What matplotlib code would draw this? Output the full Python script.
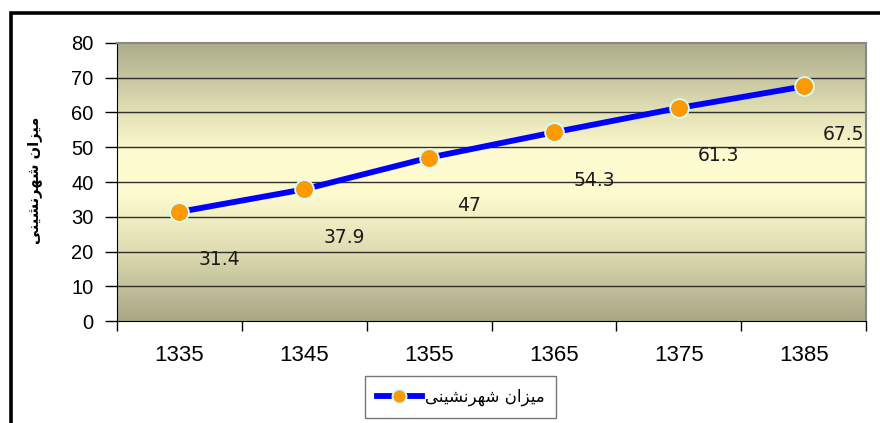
import numpy as np
import matplotlib
matplotlib.use("Agg")
import matplotlib.pyplot as plt
from matplotlib.colors import LinearSegmentedColormap
from matplotlib.patches import Rectangle

# data
years = ["1335", "1345", "1355", "1365", "1375", "1385"]
urban_rate = [31.4, 37.9, 47, 54.3, 61.3, 67.5]
value_labels = ["31.4", "37.9", "47", "54.3", "61.3", "67.5"]

# Persian label, pre-shaped (presentation forms, visual order)
series_name = "\uFBFD\uFEE8\uFBFF\uFEB8\uFEE7\uFEAE\uFEEC\uFEB7 \uFEE5\uFE8D\uFEB0\uFBFF\uFEE3"

fig = plt.figure(figsize=(8.8, 4.23), dpi=100)
ax = fig.add_axes([117 / 880, 1 - 321 / 423, (866 - 117) / 880, (321 - 43) / 423])

# outer chart frame
fig.patches.append(Rectangle((11 / 880, -0.1), 1.0, 1 - 13 / 423 + 0.1,
                             transform=fig.transFigure, fill=False,
                             edgecolor="black", linewidth=2.6))

# gradient background
grad = LinearSegmentedColormap.from_list("bg", [
    (0.0, (168 / 255, 166 / 255, 133 / 255)),
    (0.25, (222 / 255, 220 / 255, 176 / 255)),
    (0.45, (253 / 255, 251 / 255, 206 / 255)),
    (0.60, (254 / 255, 252 / 255, 208 / 255)),
    (0.75, (226 / 255, 224 / 255, 180 / 255)),
    (1.0, (172 / 255, 171 / 255, 139 / 255)),
])
ax.imshow(np.linspace(0, 1, 256).reshape(-1, 1), cmap=grad, aspect="auto",
          origin="lower", extent=(-0.5, 5.5, 0, 80), zorder=0)

x = np.arange(len(years))
for g in range(10, 80, 10):
    ax.axhline(g, color="#303030", linewidth=1.0, zorder=1)

ax.plot(x, urban_rate, color="#0000ff", linewidth=4.2, marker="o",
        markersize=13.5, markerfacecolor="#ff9900", markeredgecolor="#ccffff",
        markeredgewidth=1.3, zorder=3, label=series_name)

for xi, v, t in zip(x, urban_rate, value_labels):
    ax.annotate(t, (xi, v), xytext=(40, -48), textcoords="offset pixels",
                ha="center", va="center", fontsize=13.5, color="#1a1a1a",
                family="DejaVu Sans")

ax.set_xlim(-0.5, 5.5)
ax.set_ylim(0, 80)
ax.set_yticks(range(0, 81, 10))
ax.set_xticks(x)
ax.set_xticklabels(years)
ax.set_xticks(np.arange(-0.5, 6, 1), minor=True)
ax.tick_params(axis="x", which="major", length=0, pad=17, labelsize=16)
ax.tick_params(axis="x", which="minor", length=7, width=1, color="black")
ax.tick_params(axis="y", length=9, width=1, color="black", labelsize=14.5, pad=8)
for lab in ax.get_xticklabels() + ax.get_yticklabels():
    lab.set_family("Liberation Sans")

for s in ["top", "right"]:
    ax.spines[s].set_color("#888888")
    ax.spines[s].set_linewidth(1.5)
ax.spines["left"].set_color("black")
ax.spines["bottom"].set_color("black")

fig.text(35 / 880, 1 - 180 / 423, series_name, rotation=90, ha="center",
         va="center", fontsize=10.5, fontweight="bold", family="DejaVu Sans")

leg = fig.legend(loc="upper left", bbox_to_anchor=(365 / 880, 1 - 376 / 423),
                 borderaxespad=0, frameon=True, fancybox=False,
                 handlelength=2.7, markerscale=0.75,
                 prop={"family": "DejaVu Sans", "size": 12},
                 borderpad=0.7, handletextpad=0.2)
leg.get_frame().set_edgecolor("#555555")
leg.get_frame().set_linewidth(1.0)

fig.savefig("out.png", dpi=100)
